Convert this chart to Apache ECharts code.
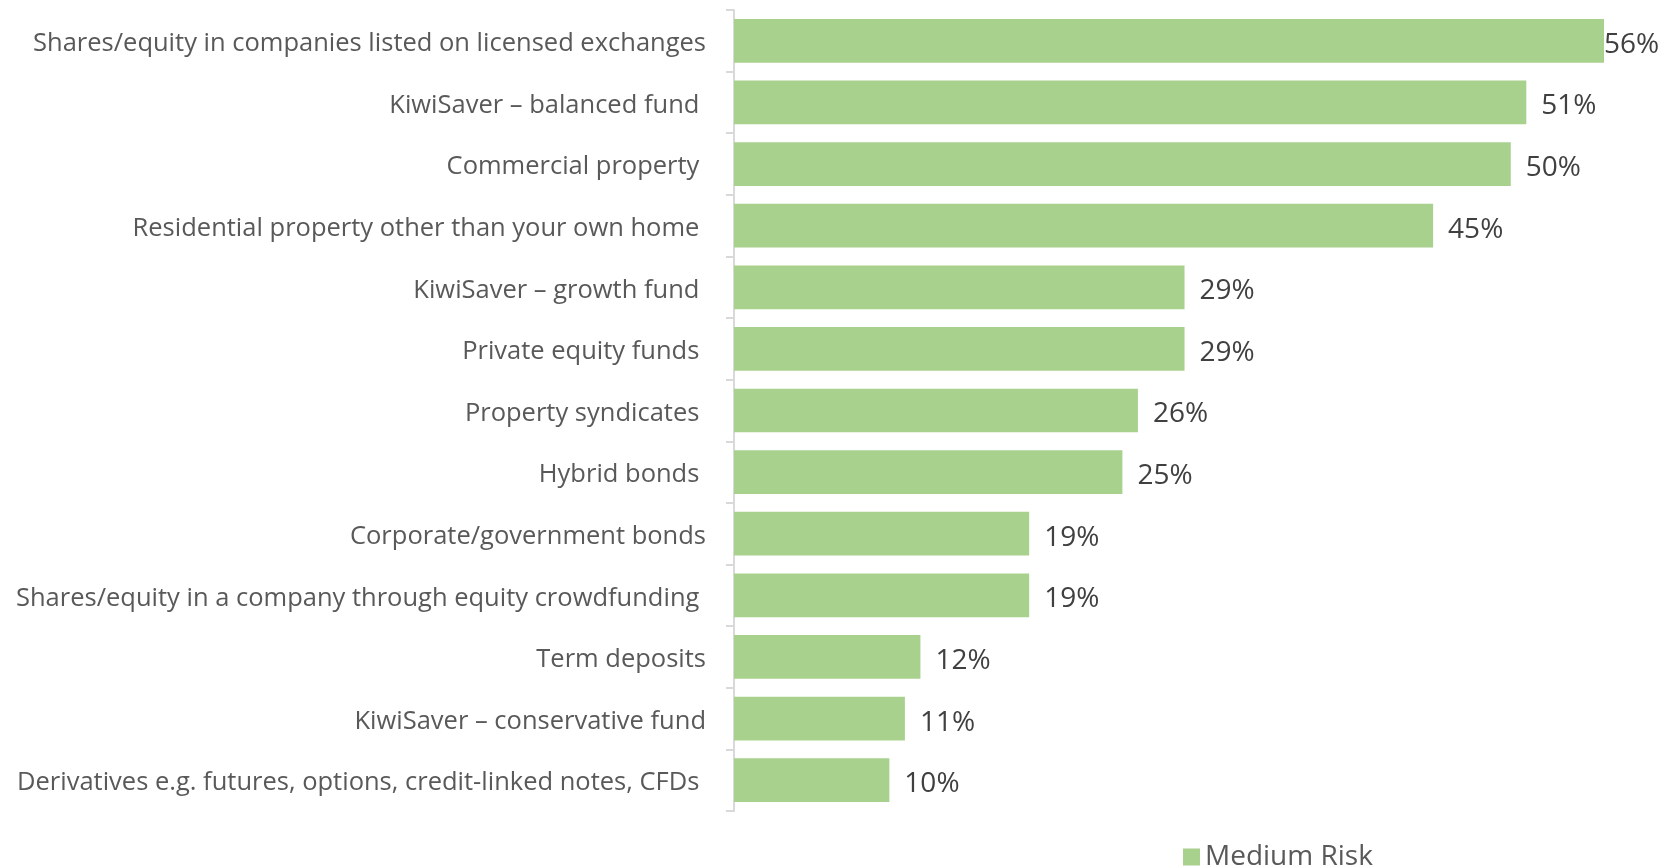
<!DOCTYPE html>
<html>
<head>
<meta charset="utf-8">
<script src="https://cdn.jsdelivr.net/npm/echarts@6/dist/echarts.min.js"></script>
<style>
  html, body { margin: 0; padding: 0; background: #ffffff; }
  #chart { width: 1663px; height: 867px; }
</style>
</head>
<body>
<div id="chart"></div>
<script>
// Investment types rated as medium risk (share of respondents, %)
const categories = [
  'Shares/equity in companies listed on licensed exchanges',
  'KiwiSaver – balanced fund ',
  'Commercial property ',
  'Residential property other than your own home ',
  'KiwiSaver – growth fund ',
  'Private equity funds ',
  'Property syndicates ',
  'Hybrid bonds ',
  'Corporate/government bonds',
  'Shares/equity in a company through equity crowdfunding ',
  'Term deposits',
  'KiwiSaver – conservative fund',
  'Derivatives e.g. futures, options, credit-linked notes, CFDs '
];
const mediumRisk = [56, 51, 50, 45, 29, 29, 26, 25, 19, 19, 12, 11, 10];
const seriesName = 'Medium Risk';

const FONT = '"Open Sans", "Noto Sans", sans-serif';
const TEXT = '#595959';
const BAR = '#A9D18E';
const xMax = 56;

// The longest bar's label sits right at the bar end so it stays inside the canvas
const barData = mediumRisk.map(v => (
  v === xMax ? { value: v, label: { distance: 0 } } : v
));

const chart = echarts.init(document.getElementById('chart'), null, { renderer: 'canvas' });
chart.setOption({
  animation: false,
  backgroundColor: '#ffffff',
  grid: { left: 734, right: 59, top: 10, bottom: 56, containLabel: false },
  xAxis: {
    type: 'value',
    min: 0,
    max: xMax,
    show: false
  },
  yAxis: {
    type: 'category',
    data: categories,
    inverse: true,
    axisLine: { show: true, lineStyle: { color: '#D9D9D9', width: 2 } },
    axisTick: { show: true, length: 8, lineStyle: { color: '#D9D9D9', width: 2 } },
    axisLabel: {
      margin: 28,
      formatter: v => '{c|' + v + '}',
      rich: {
        c: {
          color: TEXT,
          fontFamily: FONT,
          fontSize: 25.5,
          padding: [6, 0, 0, 0]
        }
      }
    }
  },
  legend: {
    show: true,
    data: [seriesName],
    top: 843,
    left: 1183,
    padding: 0,
    itemWidth: 17,
    itemHeight: 17,
    itemGap: 10,
    icon: 'rect',
    textStyle: { color: TEXT, fontFamily: FONT, fontSize: 28, padding: [3, 0, 0, 0] }
  },
  series: [{
    name: seriesName,
    type: 'bar',
    data: barData,
    barCategoryGap: '29%',
    itemStyle: { color: BAR },
    label: {
      show: true,
      position: 'right',
      distance: 15,
      offset: [0, 4],
      formatter: p => p.value + '%',
      color: '#404040',
      fontFamily: FONT,
      fontSize: 28
    }
  }]
});
</script>
</body>
</html>
